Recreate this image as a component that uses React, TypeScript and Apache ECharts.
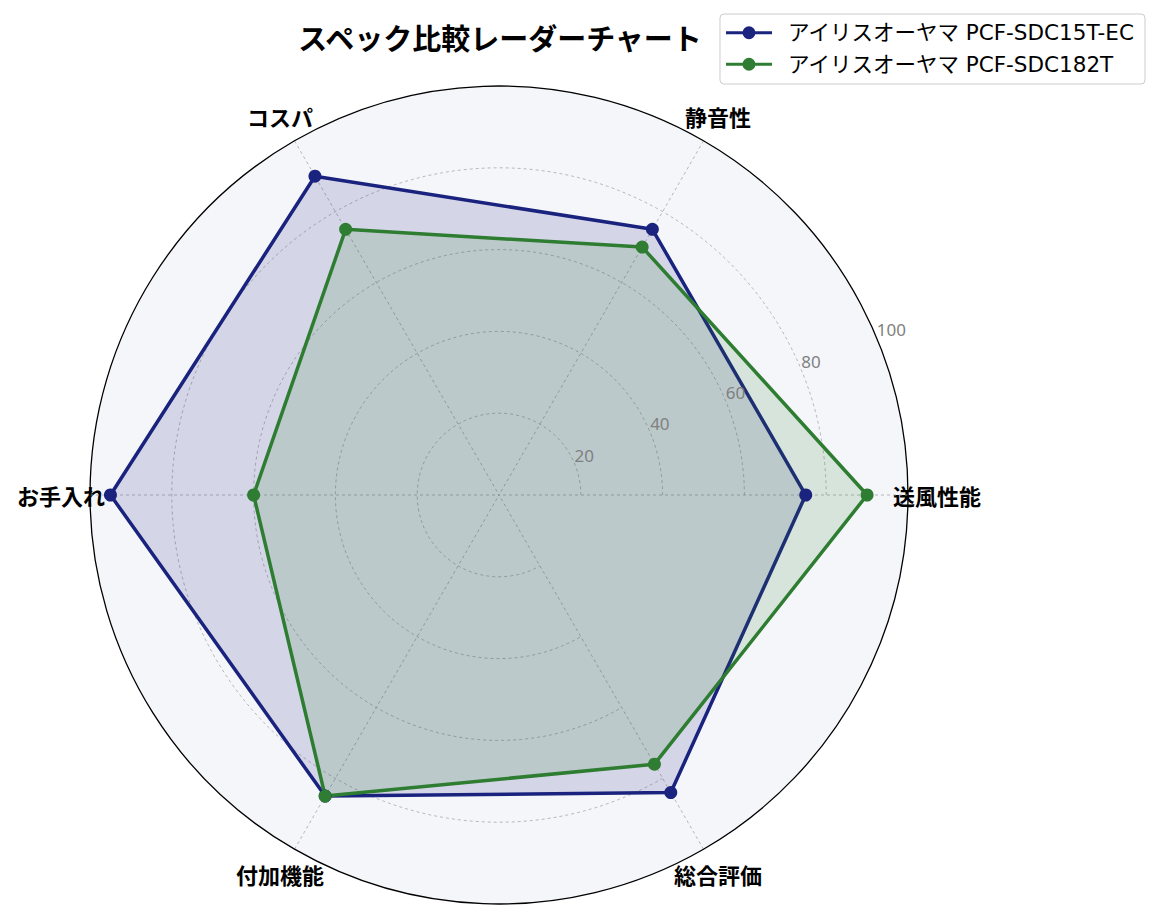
import React, { useEffect, useRef } from "react";
import * as echarts from "echarts";

// 評価軸(反時計回り、0°=右から)
const CATEGORIES = ["送風性能", "静音性", "コスパ", "お手入れ", "付加機能", "総合評価"];
const SERIES_NAMES = ["アイリスオーヤマ PCF-SDC15T-EC", "アイリスオーヤマ PCF-SDC182T"];
const SCORES_15T_EC = [75, 75, 90, 95, 85, 84];
const SCORES_182T = [90, 70, 75, 60, 85, 76];
const COLORS = ["#1a237e", "#2e7d32"];
const R_MAX = 100;
const R_STEP = 20;

const CX = 499;
const CY = 495;
const RADIUS = 409;
const NAME_R = 438; // 軸名の中心が来る半径
const NAME_SIZE = 22;
const NAME_MARGIN = -80;
const JP = "Noto Sans CJK JP";

// 極座標の角度ラベルは位置で揃え方が決まるので、padding で中心を NAME_R に寄せる
function namePadding(i: number, name: string) {
  const a = (i * 2 * Math.PI) / CATEGORIES.length;
  const cos = Math.cos(a);
  const sin = Math.sin(a);
  const r0 = RADIUS + NAME_MARGIN;
  const px = CX + r0 * cos;
  const py = CY - r0 * sin;
  const tx = CX + NAME_R * cos;
  const ty = CY - NAME_R * sin;
  const w = name.length * NAME_SIZE;
  const h = NAME_SIZE;
  let pl = 0, pr = 0, pt = 0, pb = 0;
  if (Math.abs(px - CX) / RADIUS < 0.3) {
    const d = 2 * (tx - px);
    pl = d; pr = -d;
  } else if (px > CX) pl = tx - w / 2 - px;
  else pr = px - (tx + w / 2);
  if (Math.abs(py - CY) / RADIUS < 0.3) {
    const d = 2 * (ty - py);
    pt = d; pb = -d;
  } else if (py > CY) pt = ty - h / 2 - py;
  else pb = py - (ty + h / 2);
  return [pt, pr, pb, pl].map((v) => Math.max(0, v));
}

const LEGEND_ICON =
  "path://M0,5 L46,5 L46,8 L0,8 Z M29.5,6.5 A6.5,6.5 0 1 1 16.5,6.5 A6.5,6.5 0 1 1 29.5,6.5 Z";

export default function App() {
  const ref = useRef<HTMLDivElement | null>(null);

  useEffect(() => {
    if (!ref.current) return;
    const chart = echarts.init(ref.current, undefined, { renderer: "svg" });
    const scores = [SCORES_15T_EC, SCORES_182T];

    chart.setOption({
      animation: false,
      backgroundColor: "#ffffff",
      textStyle: { fontFamily: JP },
      title: {
        text: "スペック比較レーダーチャート",
        left: CX - 4,
        top: 17,
        textAlign: "center",
        textStyle: { fontFamily: JP, fontSize: 29, fontWeight: "bold", color: "#000" },
      },
      legend: {
        orient: "vertical",
        right: 14,
        top: 14,
        padding: [8, 10, 9, 6],
        itemGap: 10,
        itemWidth: 46,
        itemHeight: 13,
        icon: LEGEND_ICON,
        itemStyle: { borderWidth: 0 },
        backgroundColor: "#ffffff",
        borderColor: "#cccccc",
        borderWidth: 1,
        borderRadius: 4,
        data: SERIES_NAMES,
        textStyle: {
          fontFamily: "DejaVu Sans, " + JP,
          fontSize: 21.5,
          lineHeight: 20,
          color: "#000",
          padding: [0, 0, 0, 11],
        },
      },
      radar: {
        z: 0,
        center: [CX, CY],
        radius: RADIUS,
        startAngle: 0,
        shape: "circle",
        splitNumber: R_MAX / R_STEP,
        indicator: CATEGORIES.map((name) => ({ name, min: 0, max: R_MAX })),
        axisName: { show: false },
        axisLine: { show: false },
        axisTick: { show: false },
        axisLabel: { show: false },
        splitLine: { show: false },
        splitArea: { show: true, areaStyle: { color: ["#f5f6fa"] } },
      },
      polar: [
        { center: [CX, CY], radius: RADIUS },
        { center: [CX, CY], radius: RADIUS },
      ],
      angleAxis: [
        {
          polarIndex: 0,
          z: 1,
          type: "category",
          data: CATEGORIES.map((name, i) => ({
            value: name,
            textStyle: { padding: namePadding(i, name) },
          })),
          boundaryGap: false,
          startAngle: 0,
          clockwise: false,
          axisLine: { show: false },
          axisTick: { show: false },
          axisLabel: {
            margin: NAME_MARGIN,
            fontSize: NAME_SIZE,
            lineHeight: NAME_SIZE,
            fontWeight: "bold",
            fontFamily: JP,
            color: "#000",
          },
          splitLine: { show: true, lineStyle: { color: "#a6a6a6", width: 0.8, type: [3, 3] } },
        },
        {
          // 外周の実線円とラジアル目盛の向き(22.5°)
          polarIndex: 1,
          z: 1,
          type: "value",
          min: 0,
          max: 360,
          startAngle: 22.5,
          axisLine: { show: true, lineStyle: { color: "#000", width: 1.3 } },
          axisTick: { show: false },
          axisLabel: { show: false },
          splitLine: { show: false },
        },
      ],
      radiusAxis: [
        {
          polarIndex: 0,
          z: 1,
          min: 0,
          max: R_MAX,
          interval: R_STEP,
          axisLine: { show: false },
          axisTick: { show: false },
          axisLabel: { show: false },
          splitLine: {
            show: true,
            lineStyle: {
              color: ["#a6a6a6", "#a6a6a6", "#a6a6a6", "#a6a6a6", "#a6a6a6", "rgba(0,0,0,0)"],
              width: 0.8,
              type: [3, 3],
            },
          },
        },
        {
          polarIndex: 1,
          z: 3,
          min: 0,
          max: R_MAX,
          interval: R_STEP,
          axisLine: { show: false },
          axisTick: { show: false },
          splitLine: { show: false },
          axisLabel: {
            margin: 0,
            align: "left",
            verticalAlign: "bottom",
            fontFamily: "Noto Sans",
            fontSize: 17,
            color: "#808080",
            formatter: (v: number) => (v === 0 ? "" : String(v)),
          },
        },
      ],
      series: SERIES_NAMES.map((name, i) => ({
        type: "radar",
        name,
        z: 2,
        symbol: "circle",
        symbolSize: 13,
        itemStyle: { color: COLORS[i] },
        lineStyle: { color: COLORS[i], width: 3.5 },
        areaStyle: { color: COLORS[i], opacity: 0.15 },
        data: [{ value: scores[i], name }],
      })),
    });

    return () => chart.dispose();
  }, []);

  return (
    <div
      ref={ref}
      style={{ position: "absolute", left: 0, top: 0, width: 1159, height: 920 }}
    />
  );
}
